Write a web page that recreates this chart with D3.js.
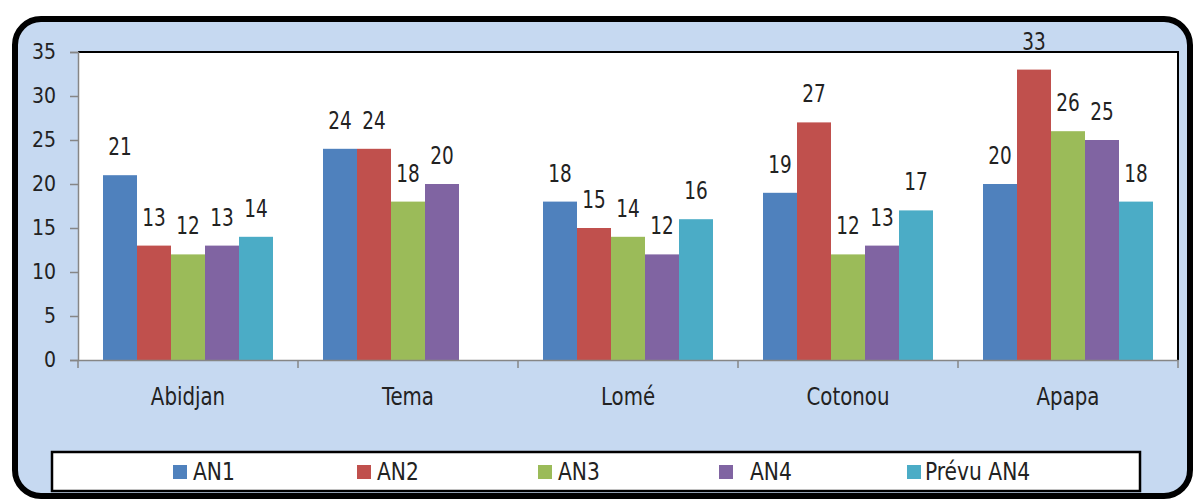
<!DOCTYPE html>
<html>
<head>
<meta charset="utf-8">
<script src="https://cdn.jsdelivr.net/npm/d3@7"></script>
<style>
  body { margin: 0; background: #fff; }
  text { font-family: "DejaVu Sans Condensed", "Liberation Sans", sans-serif; fill: #222; }
</style>
</head>
<body>
<svg width="1194" height="499"></svg>
<script>
// data
const ports = ["Abidjan", "Tema", "Lomé", "Cotonou", "Apapa"];
const seriesNames = ["AN1", "AN2", "AN3", "AN4", "Prévu AN4"];
const an1 = [21, 24, 18, 19, 20];
const an2 = [13, 24, 15, 27, 33];
const an3 = [12, 18, 14, 12, 26];
const an4 = [13, 20, 12, 13, 25];
const prevuAn4 = [14, null, 16, 17, 18];
const yTicks = [0, 5, 10, 15, 20, 25, 30, 35];

const colors = ["#4f81bd", "#c0504d", "#9bbb59", "#8064a2", "#4bacc6"];
const allSeries = [an1, an2, an3, an4, prevuAn4];

const svg = d3.select("svg");

// frame of the whole chart
svg.append("rect")
    .attr("x", 15).attr("y", 19)
    .attr("width", 1175).attr("height", 477)
    .attr("rx", 26).attr("ry", 26)
    .attr("fill", "#c6d9f1")
    .attr("stroke", "#000")
    .attr("stroke-width", 6);

const plotL = 78, plotR = 1178, plotT = 52, plotB = 360;

let x0 = d3.scaleBand().domain(ports).range([plotL, plotR]).paddingInner(0).paddingOuter(0);
let x1 = d3.scaleBand().domain(d3.range(5)).range([25, x0.bandwidth() - 25]);
let y = d3.scaleLinear().domain([0, 35]).range([plotB, plotT]);

// plot area
svg.append("rect")
    .attr("x", plotL).attr("y", plotT)
    .attr("width", plotR - plotL).attr("height", plotB - plotT)
    .attr("fill", "#fff");
svg.append("path")
    .attr("d", `M${plotL},${plotT}H${plotR}V${plotB}`)
    .attr("fill", "none")
    .attr("stroke", "#000")
    .attr("stroke-width", 2);

// bars
const rows = [];
ports.forEach((p, i) => {
    allSeries.forEach((s, j) => {
        if (s[i] != null) rows.push({ port: p, k: j, v: s[i] });
    });
});

svg.append("g").selectAll("rect")
    .data(rows)
    .enter()
    .append("rect")
    .attr("x", d => x0(d.port) + x1(d.k))
    .attr("y", d => y(d.v))
    .attr("width", x1.bandwidth())
    .attr("height", d => plotB - y(d.v))
    .attr("fill", d => colors[d.k]);

// axes
const yAxis = svg.append("g")
    .attr("transform", `translate(${plotL},0)`)
    .call(d3.axisLeft(y).tickValues(yTicks).tickSize(8).tickPadding(14));
yAxis.attr("font-family", null);
yAxis.select(".domain").attr("stroke", "#868686").attr("stroke-width", 1.5);
yAxis.selectAll(".tick line").attr("stroke", "#868686").attr("stroke-width", 1.5);
yAxis.selectAll(".tick text")
    .attr("font-size", 21)
    .attr("fill", "#222");

const xAxis = svg.append("g")
    .attr("transform", `translate(0,${plotB})`)
    .call(d3.axisBottom(x0).tickSize(0).tickPadding(0));
xAxis.attr("font-family", null);
xAxis.select(".domain").attr("stroke", "#868686").attr("stroke-width", 1.5);
xAxis.selectAll(".tick text")
    .attr("y", 0).attr("dy", null)
    .attr("transform", "translate(0,45) scale(1,1.12)")
    .attr("font-size", 22)
    .attr("fill", "#222");
// category separators
svg.append("g").selectAll("line")
    .data(ports.concat(["end"]))
    .enter()
    .append("line")
    .attr("x1", (d, i) => i < ports.length ? x0(d) : plotR)
    .attr("x2", (d, i) => i < ports.length ? x0(d) : plotR)
    .attr("y1", plotB)
    .attr("y2", plotB + 8)
    .attr("stroke", "#868686")
    .attr("stroke-width", 1.5);

// value labels
svg.append("g").selectAll("text")
    .data(rows)
    .enter()
    .append("text")
    .attr("transform", d => `translate(${x0(d.port) + x1(d.k) + x1.bandwidth() / 2},${y(d.v) - 20}) scale(1,1.22)`)
    .attr("text-anchor", "middle")
    .attr("font-size", 20.5)
    .text(d => d.v);

// legend
svg.append("rect")
    .attr("x", 52).attr("y", 452)
    .attr("width", 1088).attr("height", 39)
    .attr("fill", "#fff")
    .attr("stroke", "#000")
    .attr("stroke-width", 2.5);

const legendX = [173, 357, 538, 719, 907];
const legendGap = [6, 6, 6, 17, 4];
const lg = svg.append("g").selectAll("g")
    .data(seriesNames)
    .enter()
    .append("g")
    .attr("transform", (d, i) => `translate(${legendX[i]},465)`);
lg.append("rect")
    .attr("width", 14).attr("height", 14)
    .attr("fill", (d, i) => colors[i]);
lg.append("text")
    .attr("transform", (d, i) => `translate(${14 + legendGap[i]},15) scale(1,1.1)`)
    .attr("font-size", 22.5)
    .text(d => d);
</script>
</body>
</html>
